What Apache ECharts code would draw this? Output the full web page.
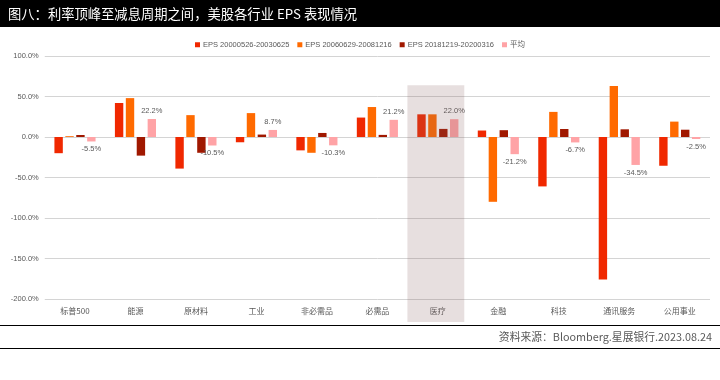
<!DOCTYPE html>
<html><head><meta charset="utf-8">
<script src="https://cdn.jsdelivr.net/npm/echarts@6/dist/echarts.min.js"></script>
<style>html,body{margin:0;padding:0;background:#fff}#c{width:720px;height:380px}</style>
</head><body><div id="c"></div>
<script>
const categories = ['标普500','能源','原材料','工业','非必需品','必需品','医疗','金融','科技','通讯服务','公用事业'];
const seriesNames = ['EPS 20000526-20030625','EPS 20060629-20081216','EPS 20181219-20200316','平均'];
const eps2000 = [-20, 42, -39, -6.5, -16.5, 24, 28, 8, -61, -176, -35.5];
const eps2006 = [1, 48, 27, 29.5, -19.5, 37, 28, -80, 31, 63, 19];
const eps2018 = [2.5, -23, -19.5, 3, 5, 2.6, 10, 8.4, 9.9, 9.5, 9];
const avg = [-5.5, 22.2, -10.5, 8.7, -10.3, 21.2, 22.0, -21.2, -6.7, -34.5, -2.5];
const yTicks = {min: -200, max: 100, interval: 50};
const titleText = '图八：利率顶峰至减息周期之间，美股各行业 EPS 表现情况';
const sourceText = '资料来源：Bloomberg.星展银行.2023.08.24';
const highlightCat = '医疗';

const colors = ['#F02800', '#FF6A00', '#A01800', '#FFA3A6'];
const latin = '"Liberation Sans", Arial, "Noto Sans CJK SC", sans-serif';
const cjk = '"Noto Sans CJK SC", "Liberation Sans", sans-serif';

const chart = echarts.init(document.getElementById('c'), null, {renderer: 'canvas'});
const mk = (name, data, i) => ({
  name, type: 'bar', data, barGap: '30%', barCategoryGap: '32%',
  itemStyle: {color: colors[i]}
});
const series = [mk(seriesNames[0], eps2000, 0), mk(seriesNames[1], eps2006, 1), mk(seriesNames[2], eps2018, 2)];
series.push({
  name: seriesNames[3], type: 'bar', itemStyle: {color: colors[3]},
  data: avg.map(v => ({value: v, label: {position: v >= 0 ? 'top' : 'bottom'}})),
  label: {show: true, fontSize: 7.5, color: '#595959', fontFamily: latin, distance: 4,
    formatter: p => p.value.toFixed(1) + '%'}
});

chart.setOption({
  animation: false,
  color: colors,
  grid: {left: 44.75, right: 10, top: 56, bottom: 81, containLabel: false},
  legend: {
    top: 36, left: 'center', icon: 'rect', itemWidth: 5, itemHeight: 5, itemGap: 8,
    textStyle: {fontSize: 7.5, color: '#595959', fontFamily: latin, padding: [0,0,0,-2]},
    data: seriesNames
  },
  xAxis: {
    type: 'category', data: categories,
    axisLine: {show: false}, axisTick: {show: false},
    axisLabel: {fontSize: 8, color: '#595959', fontFamily: cjk, margin: 8}
  },
  yAxis: {
    type: 'value', min: yTicks.min, max: yTicks.max, interval: yTicks.interval,
    axisLine: {show: false}, axisTick: {show: false},
    axisLabel: {fontSize: 7.5, color: '#595959', fontFamily: latin, margin: 6,
      formatter: v => v.toFixed(1) + '%'},
    splitLine: {lineStyle: {color: '#D4D4D4', width: 1}}
  },
  series
});

const cx = chart.convertToPixel({xAxisIndex: 0}, highlightCat);
const c0 = chart.convertToPixel({xAxisIndex: 0}, categories[0]);
const c1 = chart.convertToPixel({xAxisIndex: 0}, categories[1]);
const catW = c1 - c0;
const bandW = catW * 0.94;
const bandTop = chart.convertToPixel({yAxisIndex: 0}, 64);
const bandBottom = chart.convertToPixel({yAxisIndex: 0}, yTicks.min) + 23;

chart.setOption({
  graphic: [
    {type: 'rect', left: 0, top: 0, shape: {x: 0, y: 0, width: 720, height: 27}, style: {fill: '#000'}, z: 10},
    {type: 'text', x: 8, y: 13.5, style: {text: titleText, fill: '#fff', font: '13.3px ' + cjk, textVerticalAlign: 'middle'}, z: 11},
    {type: 'rect', shape: {x: cx - bandW / 2 - 2, y: bandTop, width: bandW, height: bandBottom - bandTop},
      style: {fill: 'rgba(135,95,95,0.2)'}, z: 20, silent: true},
    {type: 'line', shape: {x1: 0, y1: 325.5, x2: 720, y2: 325.5}, style: {stroke: '#000', lineWidth: 1}, z: 10},
    {type: 'line', shape: {x1: 0, y1: 348.5, x2: 720, y2: 348.5}, style: {stroke: '#000', lineWidth: 1}, z: 10},
    {type: 'text', x: 712, y: 336.5, style: {text: sourceText, fill: '#595959', font: '10.8px ' + cjk, textAlign: 'right', textVerticalAlign: 'middle'}, z: 10}
  ]
});
</script></body></html>
